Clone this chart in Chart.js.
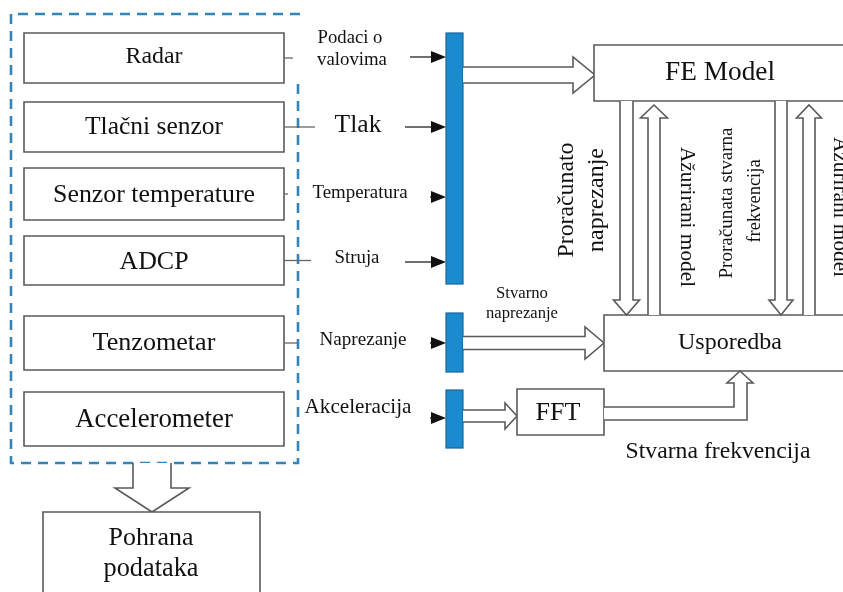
<!DOCTYPE html>
<html>
<head>
<meta charset="utf-8">
<script src="https://cdn.jsdelivr.net/npm/chart.js@4.4.1/dist/chart.umd.min.js"></script>
<style>html,body{margin:0;background:#fff}canvas{display:block}</style>
</head>
<body>
<canvas id="c" width="843" height="592"></canvas>
<script>
// diagram text
const sensors = ['Radar', 'Tlačni senzor', 'Senzor temperature', 'ADCP', 'Tenzometar', 'Accelerometer'];
const signals = [['Podaci o', 'valovima'], ['Tlak'], ['Temperatura'], ['Struja'], ['Naprezanje'], ['Akceleracija']];
const storage = ['Pohrana', 'podataka'];
const blocks = ['FE Model', 'Usporedba', 'FFT'];
const flowLabels = [['Proračunato', 'naprezanje'], ['Ažurirani model'], ['Proračunata stvarna', 'frekvencija'], ['Ažurirani model']];
const measuredStrain = ['Stvarno', 'naprezanje'];
const measuredFreq = 'Stvarna frekvencija';

// layout (diagram units = pixels of the 843x592 drawing)
const sensorRows = [[33, 83, 57, 57], [102, 152, 127, 138], [168, 220, 195, 202], [236, 285, 262, 69], [316, 370, 343, 123], [392, 446, 420, 158]];
const connectorEnds = [293, 315, 288, 311, 298, null];
const signalRows = [[[350, 38, 65], [352, 60, 70]], [[358, 125, 47]], [[360, 193, 95]], [[357, 258, 45]], [[363, 340, 87]], [[358, 407, 107]]];
const arrowRows = [[57, 410], [127, 405], [197, 430], [262, 405], [343, 430], [418, 430]];
const busBars = [[33, 284], [313, 372], [390, 448]];

const SERIF = '"Liberation Serif", "Times New Roman", serif';

const diagram = {
  id: 'diagram',
  afterDraw(chart) {
    const ctx = chart.ctx;
    const xs = chart.scales.x, ys = chart.scales.y;
    const X = v => xs.getPixelForValue(v);
    const Y = v => ys.getPixelForValue(v);

    function text(s, cx, cy, w, rot) {
      ctx.save();
      ctx.font = '20px ' + SERIF;
      const size = 20 * w / ctx.measureText(s).width;
      ctx.font = size.toFixed(1) + 'px ' + SERIF;
      ctx.fillStyle = '#111';
      ctx.textAlign = 'center';
      ctx.textBaseline = 'middle';
      ctx.translate(X(cx), Y(cy));
      if (rot) ctx.rotate(rot);
      ctx.fillText(s, 0, 0);
      ctx.restore();
    }
    function box(x1, y1, x2, y2) {
      ctx.save();
      ctx.strokeStyle = '#5a5a5a';
      ctx.lineWidth = 1.6;
      ctx.fillStyle = '#fff';
      ctx.beginPath();
      ctx.rect(X(x1), Y(y1), X(x2) - X(x1), Y(y2) - Y(y1));
      ctx.fill();
      ctx.stroke();
      ctx.restore();
    }
    function poly(pts, close) {
      ctx.save();
      ctx.strokeStyle = '#5a5a5a';
      ctx.lineWidth = 1.6;
      ctx.fillStyle = '#fff';
      ctx.beginPath();
      pts.forEach((p, i) => i ? ctx.lineTo(X(p[0]), Y(p[1])) : ctx.moveTo(X(p[0]), Y(p[1])));
      if (close) ctx.closePath();
      ctx.fill();
      ctx.stroke();
      ctx.restore();
    }
    function line(x1, y1, x2, y2, col, lw) {
      ctx.save();
      ctx.strokeStyle = col || '#5a5a5a';
      ctx.lineWidth = lw || 1.4;
      ctx.beginPath();
      ctx.moveTo(X(x1), Y(y1));
      ctx.lineTo(X(x2), Y(y2));
      ctx.stroke();
      ctx.restore();
    }
    // hollow horizontal arrow pointing right
    function hArrow(x1, x2, yc, sh, hh, hl) {
      poly([[x1, yc - sh], [x2 - hl, yc - sh], [x2 - hl, yc - hh], [x2, yc], [x2 - hl, yc + hh], [x2 - hl, yc + sh], [x1, yc + sh]]);
    }
    // hollow vertical arrow, tip at y2
    function vArrow(xc, y1, y2, sh, hh, hl) {
      const d = y2 > y1 ? 1 : -1;
      poly([[xc - sh, y1], [xc - sh, y2 - d * hl], [xc - hh, y2 - d * hl], [xc, y2], [xc + hh, y2 - d * hl], [xc + sh, y2 - d * hl], [xc + sh, y1]]);
    }

    // dashed sensor group
    ctx.save();
    ctx.strokeStyle = '#3384b8';
    ctx.lineWidth = 2.6;
    ctx.setLineDash([10, 7]);
    ctx.beginPath();
    ctx.moveTo(X(300), Y(14)); ctx.lineTo(X(11), Y(14)); ctx.lineTo(X(11), Y(463)); ctx.lineTo(X(298), Y(463)); ctx.lineTo(X(298), Y(80));
    ctx.stroke();
    ctx.restore();

    // sensor boxes and connector stubs
    sensors.forEach((s, i) => {
      const r = sensorRows[i];
      box(24, r[0], 284, r[1]);
      text(s, 154, r[2], r[3]);
      if (connectorEnds[i]) line(284, (r[0] + r[1]) / 2, connectorEnds[i], (r[0] + r[1]) / 2, '#666', 1.3);
    });

    // storage arrow and box
    vArrow(152, 463, 512, 19, 37, 24);
    box(43, 512, 260, 600);
    text(storage[0], 151, 538, 85);
    text(storage[1], 151, 569, 95);

    // signal labels and black arrows
    signals.forEach((lines, i) => {
      lines.forEach((s, j) => {
        const p = signalRows[i][j];
        text(s, p[0], p[1], p[2]);
      });
      const a = arrowRows[i];
      line(a[0] === 0 ? 0 : a[1], a[0], 433, a[0], '#222', 1.3);
      ctx.save();
      ctx.fillStyle = '#111';
      ctx.beginPath();
      ctx.moveTo(X(446), Y(a[0]));
      ctx.lineTo(X(431), Y(a[0] - 6));
      ctx.lineTo(X(431), Y(a[0] + 6));
      ctx.closePath();
      ctx.fill();
      ctx.restore();
    });

    // blue bus bars
    busBars.forEach(b => {
      ctx.save();
      ctx.fillStyle = '#1b8bd0';
      ctx.strokeStyle = '#14679e';
      ctx.lineWidth = 1.2;
      ctx.fillRect(X(446), Y(b[0]), X(463) - X(446), Y(b[1]) - Y(b[0]));
      ctx.strokeRect(X(446), Y(b[0]), X(463) - X(446), Y(b[1]) - Y(b[0]));
      ctx.restore();
    });

    // hollow arrows from bars
    hArrow(463, 595, 75, 8, 18, 22);
    hArrow(463, 604, 343, 6.5, 16, 19);
    hArrow(463, 517, 416, 6, 13, 12);

    // blocks
    box(594, 45, 850, 101);
    text(blocks[0], 720, 73, 110);
    box(604, 315, 850, 371);
    text(blocks[1], 730, 343, 104);
    box(517, 389, 604, 435);
    text(blocks[2], 558, 413, 45);

    // elbow arrow FFT -> Usporedba
    poly([[604, 407], [734, 407], [734, 383], [727, 383], [740, 371], [753, 383], [747, 383], [747, 420], [604, 420]]);
    text(measuredFreq, 718, 452, 185);
    text(measuredStrain[0], 522, 294, 52);
    text(measuredStrain[1], 522, 314, 72);

    // vertical arrows between FE Model and Usporedba
    vArrow(626.5, 101, 315, 6.5, 13, 15);
    vArrow(654, 315, 105, 6, 13.5, 13);
    vArrow(781, 101, 315, 6, 12, 15);
    vArrow(809, 315, 105, 6, 12.5, 13);

    // rotated flow labels
    text(flowLabels[0][0], 567, 200, 115, -Math.PI / 2);
    text(flowLabels[0][1], 597, 200, 104, -Math.PI / 2);
    text(flowLabels[1][0], 687, 217, 140, Math.PI / 2);
    text(flowLabels[2][0], 727, 203, 151, -Math.PI / 2);
    text(flowLabels[2][1], 755, 201, 83, -Math.PI / 2);
    text(flowLabels[3][0], 840, 207, 140, Math.PI / 2);
  }
};

new Chart(document.getElementById('c'), {
  type: 'scatter',
  data: { datasets: [{ data: [], showLine: false }] },
  options: {
    responsive: false,
    animation: false,
    layout: { padding: 0 },
    plugins: { legend: { display: false }, tooltip: { enabled: false } },
    scales: {
      x: { type: 'linear', min: 0, max: 843, display: false },
      y: { type: 'linear', min: 0, max: 592, reverse: true, display: false }
    }
  },
  plugins: [diagram]
});
</script>
</body>
</html>
